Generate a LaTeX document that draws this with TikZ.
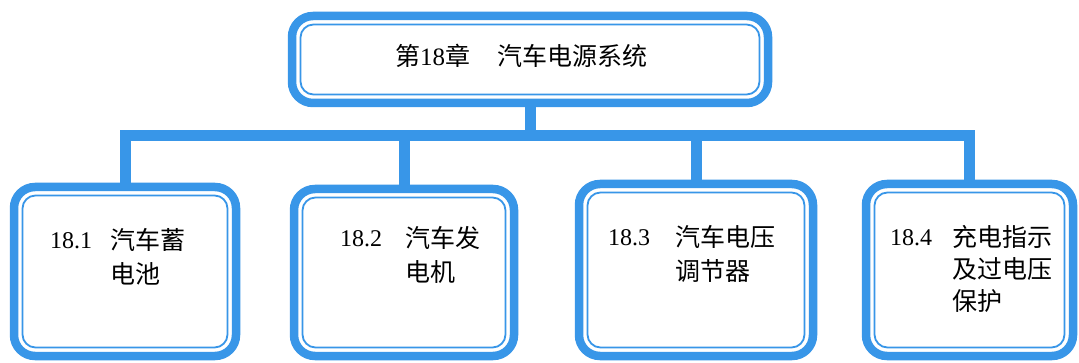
\documentclass[tikz,border=0pt]{standalone}
\usepackage{fontspec}
\setmainfont{Liberation Serif}
\newfontfamily\cjk{Noto Sans CJK SC}
\definecolor{frameblue}{RGB}{56,150,232}
\pgfdeclarelayer{paper}
\pgfdeclarelayer{links}
\pgfsetlayers{paper,links,main}
\begin{document}
\begin{tikzpicture}[x=1pt,y=-1pt,
  boxframe/.style={draw=frameblue, line width=8.5pt, rounded corners=21pt, fill=white,
    outer sep=0pt, inner sep=0pt},
  innerframe/.style={draw=frameblue, line width=1.8pt, rounded corners=13pt},
  conn/.style={draw=frameblue, line width=11pt, line join=miter},
  lbl/.style={inner sep=0pt, outer sep=0pt, anchor=base west, font=\fontsize{24}{34}\selectfont},
  cjklbl/.style={lbl, align=left, font=\fontsize{25}{34}\selectfont\cjk}]
\begin{pgfonlayer}{paper}
\useasboundingbox[fill=white] (0,0) rectangle (1079,363);
\end{pgfonlayer}
\coordinate (bar) at (530,136);
% boxes
\node[boxframe, minimum width=476pt, minimum height=87pt] (top) at (530,59.5) {};
\node[boxframe, minimum width=222pt, minimum height=169pt] (b1) at (125,271.5) {};
\node[boxframe, minimum width=220pt, minimum height=167pt] (b2) at (404,272.5) {};
\node[boxframe, minimum width=234pt, minimum height=172pt] (b3) at (696,270) {};
\node[boxframe, minimum width=207pt, minimum height=172pt] (b4) at (969.5,270) {};
% inner thin frames
\foreach \b in {top,b1,b2,b3,b4}{
  \draw[innerframe] ([shift={(8.5pt,-8.5pt)}]\b.north west) rectangle ([shift={(-8.5pt,8.5pt)}]\b.south east);
}
% connectors behind boxes
\begin{pgfonlayer}{links}
\draw[conn] (top.south) -- (bar);
\draw[conn] (b1.north) |- (bar) -| (b4.north);
\draw[conn] (b2.north) -- (b2.north |- bar);
\draw[conn] (b3.north) -- (b3.north |- bar);
\end{pgfonlayer}
% texts
\node[lbl] (tt) at (395,66) {{\fontsize{25}{30}\selectfont\cjk 第}{\fontsize{25}{30}\selectfont 18}{\fontsize{25}{30}\selectfont\cjk 章}\hspace{27pt}{\fontsize{25}{30}\selectfont\cjk 汽车电源系统}};
\node[lbl] (n1) at (50,249) {18.1};
\node[cjklbl] (c1) at (110,250) {\begin{tabular}[t]{@{}l@{}}汽车蓄\\电池\end{tabular}};
\node[lbl] (n2) at (340,247) {18.2};
\node[cjklbl] (c2) at (405,248) {\begin{tabular}[t]{@{}l@{}}汽车发\\电机\end{tabular}};
\node[lbl] (n3) at (608,246) {18.3};
\node[cjklbl] (c3) at (675,247) {\begin{tabular}[t]{@{}l@{}}汽车电压\\调节器\end{tabular}};
\node[lbl] (n4) at (890,246) {18.4};
\node[cjklbl] (c4) at (952,247) {\begin{tabular}[t]{@{}l@{}}充电指示\\[-2pt]及过电压\\[-2pt]保护\end{tabular}};
\end{tikzpicture}
\end{document}
